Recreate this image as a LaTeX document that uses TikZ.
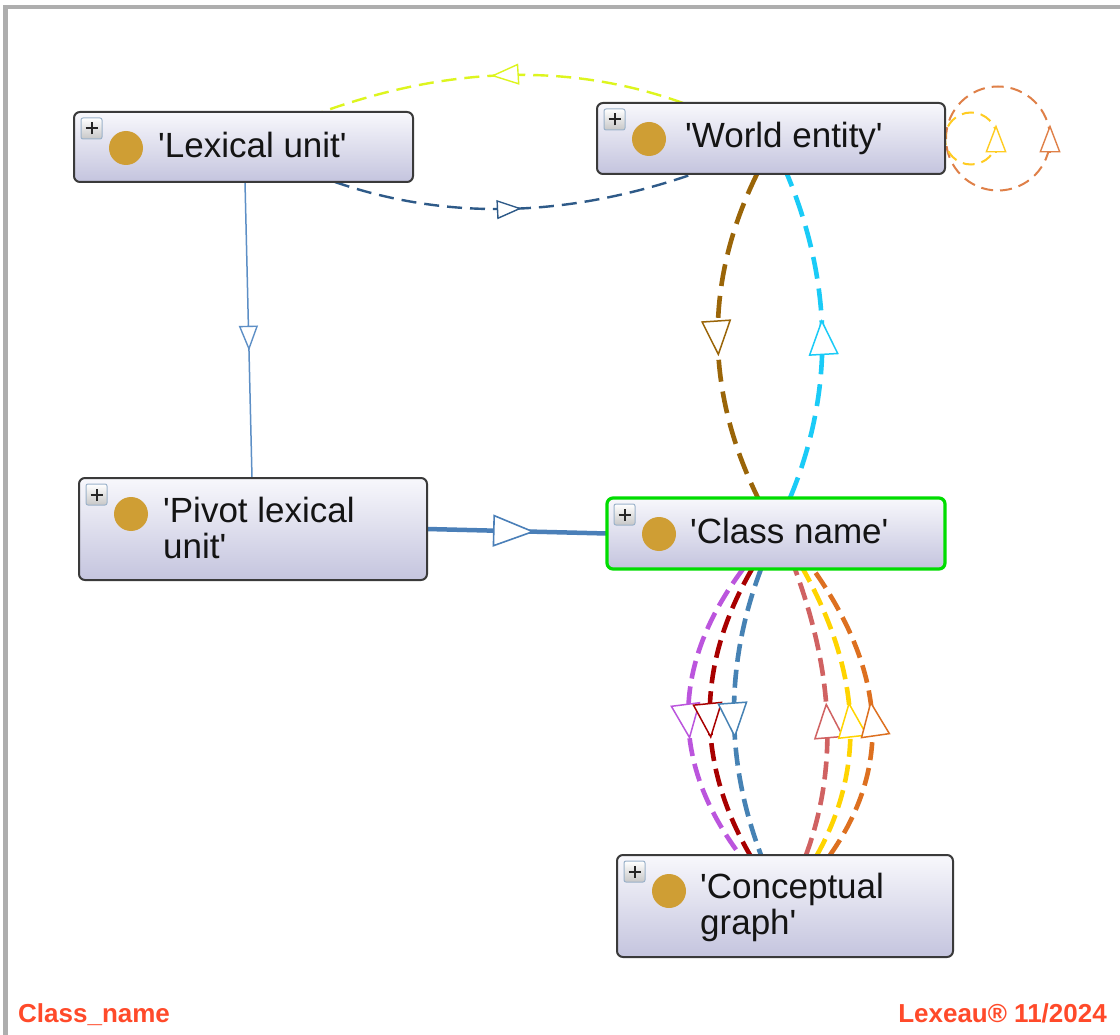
\documentclass[tikz,border=0pt]{standalone}
\usepackage{fontspec}
\setmainfont{Liberation Sans}
\usetikzlibrary{arrows.meta,decorations.markings,calc}
\pgfdeclarelayer{bg}
\pgfsetlayers{bg,main}
\definecolor{boxline}{HTML}{3A3A3A}
\definecolor{boxtop}{HTML}{F8F8FC}
\definecolor{boxbot}{HTML}{C4C4DE}
\definecolor{dotc}{HTML}{CF9E34}
\definecolor{plusline}{HTML}{9BB2CA}
\definecolor{selgreen}{HTML}{00DD00}
\definecolor{framegray}{HTML}{AEAEAE}
\definecolor{footred}{HTML}{FF4A2A}
\definecolor{cDarkBlue}{HTML}{2E5A88}
\definecolor{cLime}{HTML}{DDF51E}
\definecolor{cIsa}{HTML}{5D8FC6}
\definecolor{cPivot}{HTML}{4A7FB8}
\definecolor{cBrown}{HTML}{9A6508}
\definecolor{cCyan}{HTML}{1ACBF7}
\definecolor{cPurple}{HTML}{BB55DD}
\definecolor{cDarkRed}{HTML}{A80000}
\definecolor{cSteel}{HTML}{4682B4}
\definecolor{cSalmon}{HTML}{D06262}
\definecolor{cGold}{HTML}{FFD400}
\definecolor{cOrange}{HTML}{DD7020}
\definecolor{cLoopO}{HTML}{DF8048}
\definecolor{cLoopY}{HTML}{FFCC22}
\newcommand\myq{\textquotesingle}
\newcommand\umlentity[6]{%
  \node[box,#6,minimum width=#4pt,minimum height=#5pt] (#1) at (#2,#3) {};
  \node[plusbox] (#1-plus) at ([xshift=7pt,yshift=-6pt]#1.north west) {};
  \draw[plusmark] ([xshift=-6pt]#1-plus.center) -- ([xshift=6pt]#1-plus.center);
  \draw[plusmark] ([yshift=-6pt]#1-plus.center) -- ([yshift=6pt]#1-plus.center);
  \node[dot] (#1-dot) at ([xshift=52pt,yshift=-36pt]#1.north west) {};
}
\tikzset{
  box/.style={draw=boxline,line width=2pt,rounded corners=6pt,top color=boxtop,bottom color=boxbot,inner sep=0pt,outer sep=0pt,anchor=north west},
  selbox/.style={draw=selgreen,line width=3.2pt},
  plainbox/.style={},
  plusbox/.style={draw=plusline,line width=1pt,rounded corners=2pt,top color=white,bottom color=black!22,minimum size=21pt,inner sep=0pt,outer sep=0pt,anchor=north west},
  plusmark/.style={line width=2pt,black!85},
  dot/.style={circle,fill=dotc,minimum size=34pt,inner sep=0pt},
  lbl/.style={font=\fontsize{35pt}{40pt}\selectfont,text=black!92,inner sep=0pt,anchor=base west},
  foot/.style={font=\fontsize{26pt}{30pt}\selectfont\bfseries,text=footred,inner sep=0pt},
  midtip/.style 2 args={postaction={decorate,decoration={markings,mark=at position #1 with {\arrow{#2}}}}},
  thindash/.style={line width=2.4pt,dash pattern=on 15pt off 8pt},
  thickdash/.style={line width=4.6pt,dash pattern=on 18pt off 8pt},
  widedash/.style={line width=4.6pt,dash pattern=on 22pt off 10pt},
  loopdash/.style={line width=2pt,dash pattern=on 12pt off 7pt},
  tipS/.tip={Triangle[fill=white,length=25pt,width=19pt,line width=1.4pt]},
  tipM/.tip={Triangle[fill=white,length=28pt,width=21pt,line width=1.4pt]},
  tipL/.tip={Triangle[fill=white,length=36pt,width=30pt,line width=1.5pt]},
  tipP/.tip={Triangle[fill=white,length=42pt,width=32pt,line width=1.6pt]},
}
\begin{document}
\begin{tikzpicture}[x=1pt,y=-1pt]
\useasboundingbox (0,0) rectangle (1120,1035);
% entities
\umlentity{lu}{74}{112}{339}{70}{plainbox}
\umlentity{we}{597}{103}{348}{71}{plainbox}
\umlentity{pv}{79}{478}{348}{102}{plainbox}
\umlentity{cn}{607}{498}{338}{71}{selbox}
\umlentity{cg}{617}{855}{336}{102}{plainbox}
% labels
\node[lbl] (lu-t) at ([xshift=84pt,yshift=-46pt]lu.north west) {\myq Lexical unit\myq};
\node[lbl] (we-t) at ([xshift=88pt,yshift=-45pt]we.north west) {\myq World entity\myq};
\node[lbl] (pv-t1) at ([xshift=84pt,yshift=-44pt]pv.north west) {\myq Pivot lexical};
\node[lbl] (pv-t2) at ([xshift=84pt,yshift=-80pt]pv.north west) {unit\myq};
\node[lbl] (cn-t) at ([xshift=83pt,yshift=-45pt]cn.north west) {\myq Class name\myq};
\node[lbl] (cg-t1) at ([xshift=83pt,yshift=-43pt]cg.north west) {\myq Conceptual};
\node[lbl] (cg-t2) at ([xshift=83pt,yshift=-79pt]cg.north west) {graph\myq};
% footer
\node[foot,anchor=base west] (fl) at (18,1022) {Class\_name};
\node[foot,anchor=base east] (fr) at (1107,1022) {Lexeau® 11/2024};
\begin{pgfonlayer}{bg}
\fill[white] (0,0) rectangle (1120,1035);
\fill[framegray] (3,5) rectangle (8,1035);
\fill[framegray] (3,5) rectangle (1120,9);
% is-a lexical -> pivot
\draw[cIsa,line width=1.5pt,midtip={0.57}{tipS}] ([xshift=171pt]lu.south west) -- ([xshift=173pt]pv.north west);
% pivot -> class
\draw[cPivot,line width=4.5pt,midtip={0.6}{tipP}] (pv.east) -- (cn.west);
% lexical -> world
\draw[cDarkBlue,thindash,midtip={0.52}{tipS}] ([xshift=261pt]lu.south west) .. controls +(119,41) and +(-119,41) .. ([xshift=96pt]we.south west);
% world -> lexical
\draw[cLime,thindash,midtip={0.53}{tipM}] ([xshift=86pt]we.north west) .. controls +(-120,-43) and +(120,-43) .. ([xshift=248pt]lu.north west);
% self loops
\draw[cLoopO,loopdash] ([xshift=105pt]we.east) arc[start angle=0,end angle=-360,radius=52];
\draw[cLoopO,line width=1.4pt,-{tipM}] ([xshift=105pt,yshift=-14pt]we.east) -- ([xshift=105pt,yshift=14pt]we.east);
\draw[cLoopY,loopdash] ([xshift=52pt]we.east) arc[start angle=0,end angle=-360,radius=26];
\draw[cLoopY,line width=1.4pt,-{tipM}] ([xshift=51pt,yshift=-14pt]we.east) -- ([xshift=51pt,yshift=14pt]we.east);
% world <-> class
\draw[cBrown,widedash,midtip={0.56}{tipL}] ([xshift=160pt]we.south west) .. controls +(-53,108) and +(-53,-108) .. ([xshift=151pt]cn.north west);
\draw[cCyan,widedash,midtip={0.55}{tipL}] ([xshift=183pt]cn.north west) .. controls +(45,-108) and +(45,108) .. ([xshift=190pt]we.south west);
% class -> conceptual
\draw[cPurple,thickdash,midtip={0.59}{tipL}] ([xshift=136pt]cn.south west) .. controls +(-71,95) and +(-71,-95) .. ([xshift=123pt]cg.north west);
\draw[cDarkRed,thickdash,midtip={0.59}{tipL}] ([xshift=145pt]cn.south west) .. controls +(-55,95) and +(-55,-95) .. ([xshift=133pt]cg.north west);
\draw[cSteel,thickdash,midtip={0.59}{tipL}] ([xshift=154pt]cn.south west) .. controls +(-36,95) and +(-36,-95) .. ([xshift=144pt]cg.north west);
% conceptual -> class
\draw[cSalmon,thickdash,midtip={0.53}{tipL}] ([xshift=189pt]cg.north west) .. controls +(35,-95) and +(35,95) .. ([xshift=188pt]cn.south west);
\draw[cGold,thickdash,midtip={0.53}{tipL}] ([xshift=200pt]cg.north west) .. controls +(53,-95) and +(53,95) .. ([xshift=196pt]cn.south west);
\draw[cOrange,thickdash,midtip={0.53}{tipL}] ([xshift=213pt]cg.north west) .. controls +(67,-95) and +(67,95) .. ([xshift=206pt]cn.south west);
\end{pgfonlayer}
\end{tikzpicture}
\end{document}
